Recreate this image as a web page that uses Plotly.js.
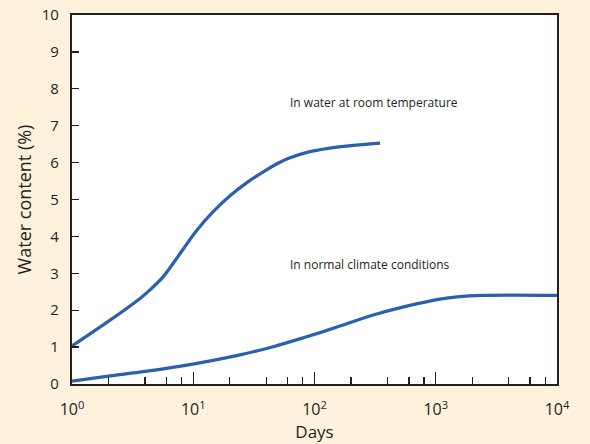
<!DOCTYPE html>
<html>
<head>
<meta charset="utf-8">
<script src="https://cdn.plot.ly/plotly-3.0.1.min.js"></script>
<style>html,body{margin:0;padding:0;background:#fef2dc;}#chart{width:590px;height:444px;}</style>
</head>
<body>
<div id="chart"></div>
<script>
const waterDays = [1, 2.06, 3.64, 4.4, 5.66, 8.28, 10.67, 14.6, 20.1, 27.5, 37.8, 51.9, 62.8, 90, 126, 200, 347];
const waterContent = [1.03, 1.73, 2.32, 2.55, 2.91, 3.66, 4.16, 4.67, 5.1, 5.45, 5.75, 6.01, 6.13, 6.29, 6.38, 6.46, 6.53];
const climateDays = [1, 2.06, 4, 9.9, 24.3, 45.7, 86, 118, 162, 305, 576, 1084, 1500, 2500, 10000];
const climateContent = [0.08, 0.22, 0.34, 0.54, 0.79, 1.01, 1.28, 1.42, 1.57, 1.87, 2.11, 2.30, 2.36, 2.4, 2.4];
const xTickVals = [1, 10, 100, 1000, 10000];
const xTickText = ['10<sup>0</sup>', '10<sup>1</sup>', '10<sup>2</sup>', '10<sup>3</sup>', '10<sup>4</sup>'];
const xMinorVals = [2,4,6,8,20,40,60,80,200,400,600,800,2000,4000,6000,8000];
const yTickVals = [0,1,2,3,4,5,6,7,8,9,10];

const lineStyle = {color: '#2a60ad', width: 3.2, shape: 'spline', smoothing: 0.9};
const traces = [
  {x: waterDays, y: waterContent, mode: 'lines', line: lineStyle, hoverinfo: 'skip'},
  {x: climateDays, y: climateContent, mode: 'lines', line: lineStyle, hoverinfo: 'skip'}
];
const layout = {
  width: 590, height: 444,
  paper_bgcolor: '#fef2dc', plot_bgcolor: '#ffffff',
  margin: {l: 72, r: 33, t: 15, b: 60},
  showlegend: false,
  font: {family: 'Open Sans, sans-serif', color: '#231f20'},
  xaxis: {
    type: 'log', range: [0, 4],
    tickmode: 'array', tickvals: xTickVals, ticktext: xTickText,
    ticks: 'inside', ticklen: 12, tickwidth: 1.3, tickcolor: '#231f20',
    minor: {tickmode: 'array', tickvals: xMinorVals, ticks: 'inside', ticklen: 7, tickwidth: 1.3, tickcolor: '#231f20', showgrid: false},
    showline: true, linecolor: '#231f20', linewidth: 2.2, mirror: true,
    showgrid: false, zeroline: false,
    tickfont: {size: 16}, ticklabelstandoff: 10,
    title: {text: 'Days', font: {size: 17}, standoff: 6}
  },
  yaxis: {
    range: [0, 10], tickmode: 'array', tickvals: yTickVals,
    ticks: 'inside', ticklen: 7, tickwidth: 1.3, tickcolor: '#231f20',
    showline: true, linecolor: '#231f20', linewidth: 2.2, mirror: true,
    showgrid: false, zeroline: false,
    tickfont: {size: 15}, ticklabelstandoff: 8,
    title: {text: 'Water content (%)', font: {size: 18}, standoff: 5}
  },
  annotations: [
    {text: 'In water at room temperature', xref: 'paper', yref: 'paper', x: (288-72)/485, y: (384-103)/369, xanchor: 'left', yanchor: 'middle', showarrow: false, font: {size: 12, color: '#231f20'}},
    {text: 'In normal climate conditions', xref: 'paper', yref: 'paper', x: (288-72)/485, y: (384-264)/369, xanchor: 'left', yanchor: 'middle', showarrow: false, font: {size: 12, color: '#231f20'}}
  ]
};
Plotly.newPlot('chart', traces, layout, {displayModeBar: false, staticPlot: true});
</script>
</body>
</html>
